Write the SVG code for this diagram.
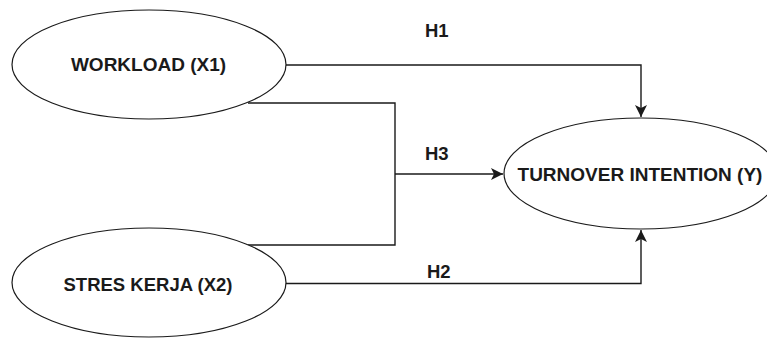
<svg xmlns="http://www.w3.org/2000/svg" width="767" height="338" viewBox="0 0 767 338">
  <style>
    .node { fill: #ffffff; stroke: #1a1a1a; stroke-width: 1.2; }
    .label { font-family: "Liberation Sans", Arial, sans-serif; font-weight: bold; font-size: 18.5px; fill: #1a1a1a; }
    .big { font-size: 19px; }
    .edge { fill: none; stroke: #1a1a1a; stroke-width: 1.4; }
  </style>
  <defs>
    <marker id="arrow" markerUnits="userSpaceOnUse" markerWidth="14" markerHeight="14" refX="12" refY="6" orient="auto">
      <path d="M0,0 L12,6 L0,12 L3,6 Z" fill="#1a1a1a"/>
    </marker>
  </defs>
  <rect width="767" height="338" fill="#ffffff"/>

  <!-- connectors -->
  <g id="connectors">
    <path class="edge" d="M286,65 H641 V117" marker-end="url(#arrow)"/>
    <path class="edge" d="M248,103 H395 V245 H248"/>
    <path class="edge" d="M395,174 H503" marker-end="url(#arrow)"/>
    <path class="edge" d="M286,283.5 H641 V230" marker-end="url(#arrow)"/>
    <text class="label" x="425" y="37">H1</text>
    <text class="label" x="425" y="160">H3</text>
    <text class="label" x="427" y="278">H2</text>
  </g>

  <!-- nodes -->
  <g id="workload">
    <ellipse class="node" cx="149" cy="64.5" rx="137" ry="54.5"/>
    <text class="label big" x="148.5" y="71" text-anchor="middle">WORKLOAD (X1)</text>
  </g>
  <g id="stres-kerja">
    <ellipse class="node" cx="149" cy="282.5" rx="137" ry="54.5"/>
    <text class="label" x="148" y="291" text-anchor="middle">STRES KERJA (X2)</text>
  </g>
  <g id="turnover-intention">
    <ellipse class="node" cx="641" cy="173.5" rx="137" ry="55.5"/>
    <text class="label big" x="640" y="181" text-anchor="middle">TURNOVER INTENTION (Y)</text>
  </g>
</svg>
